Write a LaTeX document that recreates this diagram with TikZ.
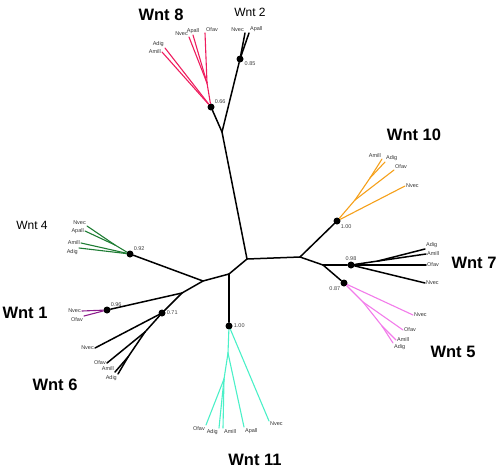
\documentclass[tikz,border=0pt]{standalone}
\usepackage{fontspec}
\setsansfont{Liberation Sans}
\usetikzlibrary{positioning}
\definecolor{wntred}{HTML}{EE1D5E}
\definecolor{wntorange}{HTML}{F5A01A}
\definecolor{wntpink}{HTML}{F27BEA}
\definecolor{wntaqua}{HTML}{4BF0C8}
\definecolor{wntgreen}{HTML}{1F7D34}
\definecolor{wntpurple}{HTML}{8C1D8C}
\tikzset{
	every picture/.style={/utils/exec={\sffamily}},
	branch/.style={line width=1.5pt, black},
	clade/.style={line width=1.1pt},
	dot/.style={circle, fill=black, inner sep=0pt, minimum size=7pt},
	leaf/.style={font=\fontsize{5.5}{6}\selectfont, inner sep=1pt, text=black!80},
	boot/.style={font=\fontsize{5.5}{6}\selectfont, inner sep=1pt, text=black!75},
	family/.style={font=\fontsize{16.5}{18}\selectfont\bfseries},
	family2/.style={font=\fontsize{12}{14}\selectfont},
}
\begin{document}
\begin{tikzpicture}[x=1pt, y=-1pt, line cap=round, line join=round]
	\useasboundingbox (0,0) rectangle (500,474);

	% backbone
	\coordinate (root) at (247,259);
	\coordinate (right) at (300,257);
	\coordinate (low) at (229,274);
	\coordinate (left) at (203,281);
	\coordinate (leftlow) at (182,293);
	\coordinate (top) at (222,132);
	\coordinate (fork) at (323,265);

	\node[dot, label={[boot]above right:0.66}] (n8) at (211,107) {};
	\node[dot, label={[boot]-20:0.85}] (n2) at (240,59) {};
	\node[dot, label={[boot]below right:1.00}] (n10) at (337,221) {};
	\node[dot, label={[boot]above:0.98}] (n7) at (351,265) {};
	\node[dot, label={[boot]below left:0.87}] (n5) at (344,283) {};
	\node[dot, label={[boot]right:1.00}] (n11) at (229,326) {};
	\node[dot, label={[boot]above right:0.92}] (n4) at (130,254) {};
	\node[dot, label={[boot]above right:0.96}] (n1) at (107,310) {};
	\node[dot, label={[boot]right:0.71}] (n6) at (162,313) {};

	% Wnt 8
	\coordinate (w8s) at (207,83);
	\coordinate[label={[leaf]150:Adig}] (w8adig) at (165,48);
	\coordinate[label={[leaf]left:Amill}] (w8amill) at (162,52);
	\coordinate[label={[leaf]150:Nvec}] (w8nvec) at (189,37);
	\coordinate[label={[leaf]above:Apall}] (w8apall) at (193,35);
	\coordinate[label={[leaf]60:Ofav}] (w8ofav) at (205,33);
	% Wnt 2
	\coordinate[label={[leaf]135:Nvec}] (w2nvec) at (245,33);
	\coordinate[label={[leaf]45:Apall}] (w2apall) at (249,33);
	% Wnt 10
	\coordinate (w10s1) at (355,200);
	\coordinate (w10s2) at (370,178);
	\coordinate[label={[leaf]110:Amill}] (w10amill) at (382,159);
	\coordinate[label={[leaf]20:Adig}] (w10adig) at (385,162);
	\coordinate[label={[leaf]15:Ofav}] (w10ofav) at (394,170);
	\coordinate[label={[leaf]right:Nvec}] (w10nvec) at (405,186);
	% Wnt 7
	\coordinate (w7s) at (378,261);
	\coordinate[label={[leaf]15:Adig}] (w7adig) at (425,249);
	\coordinate[label={[leaf]right:Amill}] (w7amill) at (426,254);
	\coordinate[label={[leaf]right:Ofav}] (w7ofav) at (426,265);
	\coordinate[label={[leaf]right:Nvec}] (w7nvec) at (425,283);
	% Wnt 5
	\coordinate (w5s1) at (363,302);
	\coordinate (w5s2) at (382,326);
	\coordinate[label={[leaf]right:Nvec}] (w5nvec) at (413,315);
	\coordinate[label={[leaf]right:Ofav}] (w5ofav) at (403,330);
	\coordinate[label={[leaf]right:Amill}] (w5amill) at (396,340);
	\coordinate[label={[leaf]-60:Adig}] (w5adig) at (393,343);
	% Wnt 11
	\coordinate (w11s1) at (228,353);
	\coordinate (w11s2) at (224,379);
	\coordinate[label={[leaf]225:Ofav}] (w11ofav) at (206,425);
	\coordinate[label={[leaf]250:Adig}] (w11adig) at (219,428);
	\coordinate[label={[leaf]-60:Amill}] (w11amill) at (223,428);
	\coordinate[label={[leaf]-45:Apall}] (w11apall) at (244,427);
	\coordinate[label={[leaf]-30:Nvec}] (w11nvec) at (269,421);
	% Wnt 4
	\coordinate (w4s) at (115,245);
	\coordinate[label={[leaf]160:Nvec}] (w4nvec) at (87,226);
	\coordinate[label={[leaf]left:Apall}] (w4apall) at (85,231);
	\coordinate[label={[leaf]left:Amill}] (w4amill) at (81,243);
	\coordinate[label={[leaf]190:Adig}] (w4adig) at (79,248);
	% Wnt 1
	\coordinate[label={[leaf]left:Nvec}] (w1nvec) at (82,311);
	\coordinate[label={[leaf]220:Ofav}] (w1ofav) at (84,316);
	% Wnt 6
	\coordinate (w6s1) at (145,332);
	\coordinate (w6s2) at (128,357);
	\coordinate[label={[leaf]left:Nvec}] (w6nvec) at (95,348);
	\coordinate[label={[leaf]left:Ofav}] (w6ofav) at (107,363);
	\coordinate[label={[leaf]165:Amill}] (w6amill) at (115,372);
	\coordinate[label={[leaf]-110:Adig}] (w6adig) at (118,374);

	\path[branch] (root) edge (right) edge (top) edge (low)
		(low) edge (left) edge (n11)
		(left) edge (n4) edge (leftlow)
		(leftlow) edge (n1) edge (n6)
		(top) edge (n8) edge (n2)
		(right) edge (n10) edge (fork)
		(fork) edge (n7) edge (n5)
		(n2) edge (w2nvec) edge (w2apall)
		(n7) edge (w7nvec) edge (w7ofav) edge (w7s)
		(w7s) edge (w7adig) edge (w7amill)
		(n6) edge (w6nvec) edge (w6s1)
		(w6s1) edge (w6ofav) edge (w6s2)
		(w6s2) edge (w6amill) edge (w6adig);

	\path[clade, wntred] (n8) edge (w8adig) edge (w8amill) edge (w8s)
		(w8s) edge (w8nvec) edge (w8apall) edge (w8ofav);
	\path[clade, wntorange] (n10) edge (w10nvec) edge (w10s1)
		(w10s1) edge (w10ofav) edge (w10s2)
		(w10s2) edge (w10amill) edge (w10adig);
	\path[clade, wntpink] (n5) edge (w5nvec) edge (w5s1)
		(w5s1) edge (w5ofav) edge (w5s2)
		(w5s2) edge (w5amill) edge (w5adig);
	\path[clade, wntaqua] (n11) edge (w11nvec) edge (w11s1)
		(w11s1) edge (w11apall) edge (w11s2)
		(w11s2) edge (w11ofav) edge (w11adig) edge (w11amill);
	\path[clade, wntgreen] (n4) edge (w4s) edge (w4amill) edge (w4adig)
		(w4s) edge (w4nvec) edge (w4apall);
	\path[clade, wntpurple] (n1) edge (w1nvec) edge (w1ofav);

	% family names
	\node[family] (t8) at (161,15) {Wnt 8};
	\node[family2] (t2) at (250,12) {Wnt 2};
	\node[family] (t10) at (414,135) {Wnt 10};
	\node[family] (t7) at (474,263) {Wnt 7};
	\node[family] (t5) at (453,352) {Wnt 5};
	\node[family] (t11) at (255,460) {Wnt 11};
	\node[family] (t6) at (55,385) {Wnt 6};
	\node[family] (t1) at (25,313) {Wnt 1};
	\node[family2] (t4) at (32,225) {Wnt 4};
\end{tikzpicture}
\end{document}
